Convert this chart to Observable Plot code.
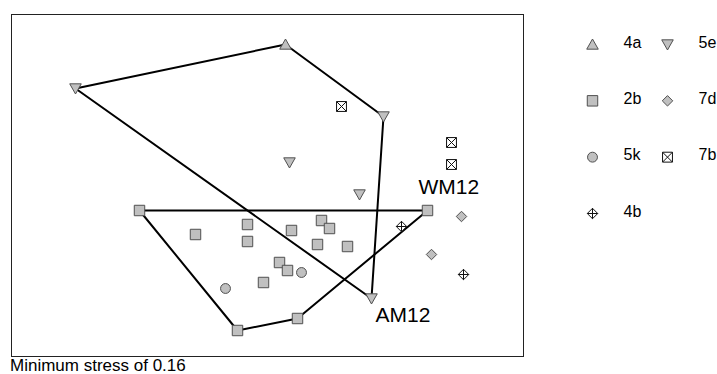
<!DOCTYPE html>
<html><head><meta charset="utf-8">
<script src="https://cdn.jsdelivr.net/npm/d3@7"></script>
<script src="https://cdn.jsdelivr.net/npm/@observablehq/plot@0.6"></script>
<style>
body{margin:0;background:#fff;font-family:"Liberation Sans",Arial,sans-serif;}
#wrap{position:relative;width:717px;height:374px;}
#chart,#legend{position:absolute;left:0;top:0;}
#cap{position:absolute;left:10px;top:359px;font-size:17px;line-height:14px;color:#000;white-space:nowrap;}
</style></head><body>
<div id="wrap"><div id="chart"></div><div id="legend"></div><div id="cap"></div></div>
<script>
// ---- data (NMDS coordinates) ----
const caption = "Minimum stress of 0.16";
const groupNames = ["4a", "5e", "2b", "7d", "5k", "7b", "4b"];
const pts4a = [[0.07, 0.70]];
const pts5e = [[-0.98, 0.48], [0.09, 0.11], [0.56, 0.34], [0.44, -0.05], [0.50, -0.57]];
const pts2b = [[-0.66, -0.13], [0.78, -0.13], [-0.38, -0.25], [-0.12, -0.20], [-0.12, -0.285],
               [0.10, -0.23], [0.25, -0.18], [0.29, -0.22], [0.23, -0.30], [0.38, -0.31],
               [0.04, -0.39], [0.08, -0.43], [-0.04, -0.49], [-0.17, -0.73], [0.13, -0.67]];
const pts7d = [[0.95, -0.16], [0.80, -0.35]];
const pts5k = [[-0.23, -0.52], [0.15, -0.44]];
const pts7b = [[0.35, 0.39], [0.90, 0.21], [0.90, 0.10]];
const pts4b = [[0.65, -0.21], [0.96, -0.45]];
const hullNames = ["AM12", "WM12"];
const hullGroups = [["4a", "5e"], ["2b"]];
const labelAnchorX = [0.50, 0.78];
const labelAnchorY = [-0.57, -0.13];

// ---- symbols ----
const R = s => Math.sqrt(s / Math.PI);
const triUp = {draw(c, s) { const r = R(s); c.moveTo(0, -r); c.lineTo(r * 1.05, r * 0.85); c.lineTo(-r * 1.05, r * 0.85); c.closePath(); }};
const triDown = {draw(c, s) { const r = R(s); c.moveTo(0, r); c.lineTo(r * 1.05, -r * 0.85); c.lineTo(-r * 1.05, -r * 0.85); c.closePath(); }};
const sq = {draw(c, s) { const r = R(s) * 0.95; c.rect(-r, -r, 2 * r, 2 * r); }};
const circ = {draw(c, s) { const r = R(s) * 0.9; c.moveTo(r, 0); c.arc(0, 0, r, 0, 2 * Math.PI); }};
const diam = {draw(c, s) { const r = R(s) * 0.95; c.moveTo(0, -r); c.lineTo(r, 0); c.lineTo(0, r); c.lineTo(-r, 0); c.closePath(); }};
const boxX = {draw(c, s) { const r = R(s) * 0.9; c.rect(-r, -r, 2 * r, 2 * r); c.moveTo(-r, -r); c.lineTo(r, r); c.moveTo(r, -r); c.lineTo(-r, r); }};
const crossDiam = {draw(c, s) { const r = R(s) * 0.95; c.moveTo(0, -r); c.lineTo(r, 0); c.lineTo(0, r); c.lineTo(-r, 0); c.closePath(); c.moveTo(0, -r); c.lineTo(0, r); c.moveTo(-r, 0); c.lineTo(r, 0); }};

const GREY = "#c0c0c0", EDGE = "#505050";
const styleOf = {
  "4a": {symbol: triUp, fill: GREY, stroke: EDGE},
  "5e": {symbol: triDown, fill: GREY, stroke: EDGE},
  "2b": {symbol: sq, fill: GREY, stroke: EDGE},
  "7d": {symbol: diam, fill: GREY, stroke: EDGE},
  "5k": {symbol: circ, fill: GREY, stroke: EDGE},
  "7b": {symbol: boxX, fill: "white", stroke: "#111"},
  "4b": {symbol: crossDiam, fill: "white", stroke: "#111"}
};
const ptsOf = {"4a": pts4a, "5e": pts5e, "2b": pts2b, "7d": pts7d, "5k": pts5k, "7b": pts7b, "4b": pts4b};

// hulls
const hulls = hullNames.map((name, i) => {
  const all = hullGroups[i].flatMap(g => ptsOf[g]);
  const h = d3.polygonHull(all);
  return h.concat([h[0]]).map(p => ({name, x: p[0], y: p[1]}));
});
const labels = hullNames.map((name, i) => ({name, x: labelAnchorX[i], y: labelAnchorY[i]}));

const FONT = "Liberation Sans, Arial, sans-serif";
const marks = [
  Plot.frame({stroke: "#222", strokeWidth: 1}),
  ...hulls.map(h => Plot.line(h, {x: "x", y: "y", stroke: "black", strokeWidth: 2, curve: "linear-closed"})),
  ...groupNames.map(g => Plot.dot(ptsOf[g], {x: d => d[0], y: d => d[1], r: 5.5, strokeWidth: 1, ...styleOf[g]})),
  Plot.text(labels.filter(d => d.name === "AM12"), {x: "x", y: "y", text: "name", fontSize: 21, fontFamily: FONT, textAnchor: "start", lineAnchor: "top", dx: 4, dy: 9, fill: "black"}),
  Plot.text(labels.filter(d => d.name === "WM12"), {x: "x", y: "y", text: "name", fontSize: 21, fontFamily: FONT, textAnchor: "start", lineAnchor: "top", dx: -9, dy: -31, fill: "black"})
];

const chart = Plot.plot({
  width: 717, height: 358,
  marginLeft: 11, marginRight: 194, marginTop: 14, marginBottom: 2,
  x: {domain: [-1.3, 1.26], axis: null},
  y: {domain: [-0.86, 0.85], axis: null},
  style: {fontFamily: FONT, background: "transparent"},
  marks
});
document.getElementById("chart").append(chart);

// legend as an overlay plot
const legendItems = groupNames.map((g, i) => ({g, col: i % 2, row: Math.floor(i / 2)}));
const legend = Plot.plot({
  width: 717, height: 358, margin: 0,
  x: {type: "linear", domain: [0, 1], range: [592, 667], axis: null},
  y: {type: "linear", domain: [0, 3], range: [44, 213], axis: null},
  style: {fontFamily: FONT, background: "transparent"},
  marks: [
    ...legendItems.map(d => Plot.dot([d], {x: "col", y: "row", r: 5.5, strokeWidth: 1, ...styleOf[d.g]})),
    Plot.text(legendItems, {x: "col", y: "row", text: "g", fontSize: 16, fontFamily: FONT, textAnchor: "start", dx: 31, dy: -2, fill: "black"})
  ]
});
document.getElementById("legend").append(legend);
document.getElementById("cap").textContent = caption;
</script>
</body></html>
